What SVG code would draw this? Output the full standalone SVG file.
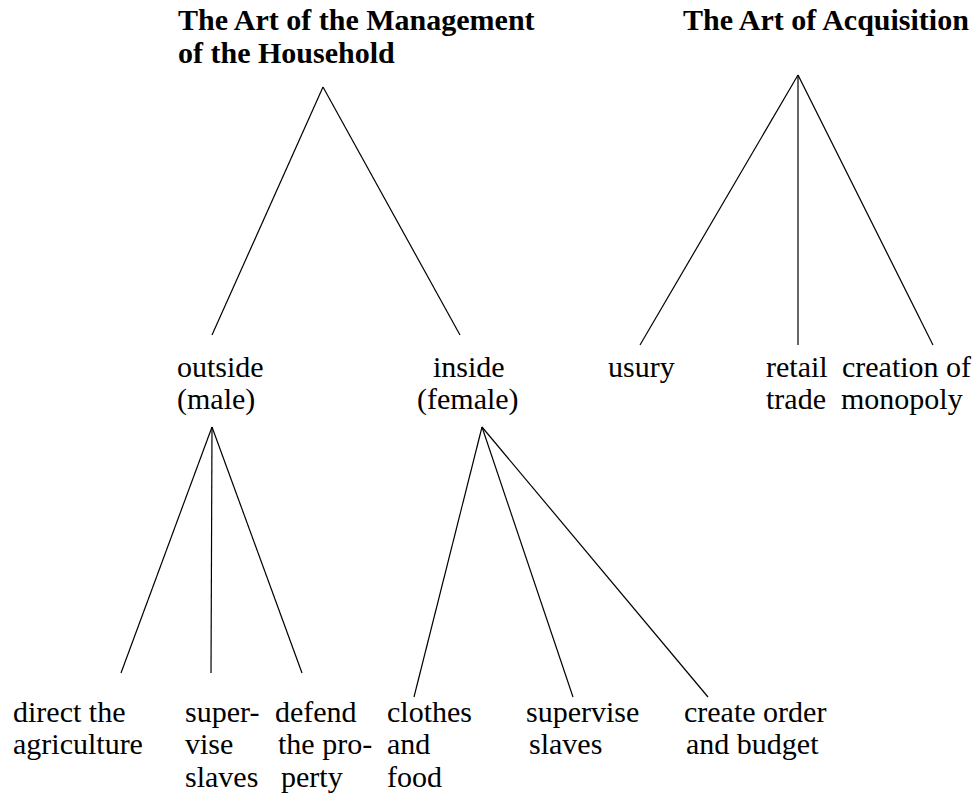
<svg xmlns="http://www.w3.org/2000/svg" width="979" height="799" viewBox="0 0 979 799">
<style>
text{font-family:"Liberation Serif","Times New Roman",serif;font-size:30px;fill:#000}
.t{font-weight:bold}
.c line{stroke:#000;stroke-width:1.2;fill:none}
</style>
<rect width="979" height="799" fill="#fff"/>
<g id="connectors" class="c">
<line x1="323" y1="87" x2="212" y2="335"/>
<line x1="323" y1="87" x2="460" y2="335"/>
<line x1="798" y1="75" x2="640" y2="345"/>
<line x1="798" y1="75" x2="798" y2="345"/>
<line x1="798" y1="75" x2="933" y2="345"/>
<line x1="212" y1="427" x2="121" y2="673"/>
<line x1="212" y1="427" x2="211" y2="673"/>
<line x1="212" y1="427" x2="302" y2="673"/>
<line x1="482" y1="427" x2="414" y2="697"/>
<line x1="482" y1="427" x2="573" y2="697"/>
<line x1="482" y1="427" x2="708" y2="697"/>
</g>
<g id="household"><text class="t" x="178" y="30">The Art of the Management</text><text class="t" x="178" y="63">of the Household</text></g>
<g id="acquisition"><text class="t" x="683" y="30">The Art of Acquisition</text></g>
<g id="outside"><text x="177" y="377">outside</text><text x="177" y="409">(male)</text></g>
<g id="inside"><text x="433" y="377">inside</text><text x="417" y="409">(female)</text></g>
<g id="usury"><text x="608" y="377">usury</text></g>
<g id="retail"><text x="766" y="377">retail</text><text x="766" y="409">trade</text></g>
<g id="monopoly"><text x="842" y="377">creation of</text><text x="841" y="409">monopoly</text></g>
<g id="agriculture"><text x="13" y="722">direct the</text><text x="13" y="754">agriculture</text></g>
<g id="supervise-male"><text x="185" y="722">super-</text><text x="185" y="754">vise</text><text x="185" y="787">slaves</text></g>
<g id="defend"><text x="275" y="722">defend</text><text x="278" y="754">the pro-</text><text x="281" y="787">perty</text></g>
<g id="clothes"><text x="387" y="722">clothes</text><text x="387" y="754">and</text><text x="387" y="787">food</text></g>
<g id="supervise-female"><text x="526" y="722">supervise</text><text x="529" y="754">slaves</text></g>
<g id="budget"><text x="684" y="722">create order</text><text x="686" y="754">and budget</text></g>
</svg>
